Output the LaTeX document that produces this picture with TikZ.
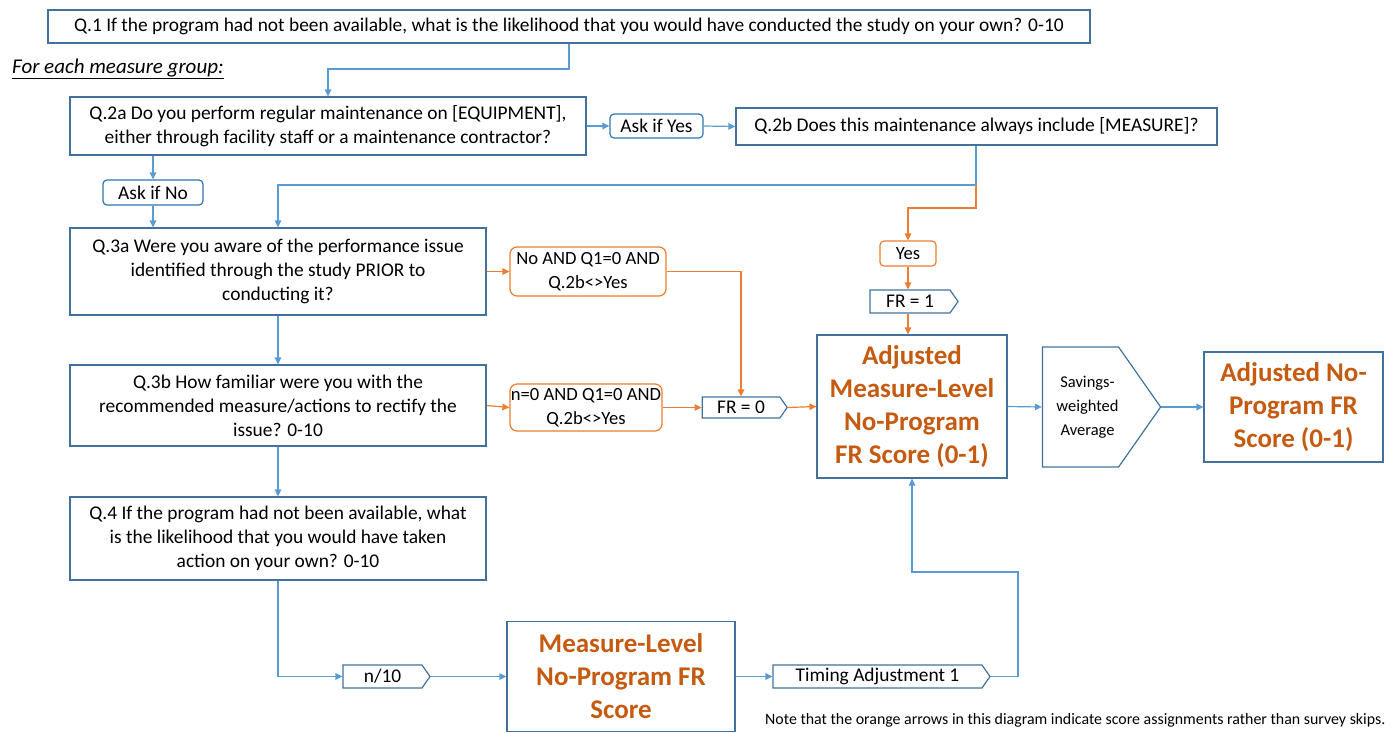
\documentclass[tikz,border=0pt]{standalone}
\usepackage{fontspec}
\setmainfont{Carlito}
\usetikzlibrary{arrows.meta,shapes.symbols}
\definecolor{boxblue}{RGB}{65,113,156}
\definecolor{lineblue}{RGB}{91,155,213}
\definecolor{askblue}{RGB}{46,117,182}
\definecolor{lineorange}{RGB}{237,125,49}
\definecolor{textorange}{RGB}{197,90,17}
\begin{document}
\begin{tikzpicture} [
  x=1pt, y=-1pt,
  every node/.style= {font=\fontsize{19.4}{24}\selectfont, align=center, inner sep=0pt},
  qbox/.style= {draw=boxblue, line width=1.2pt},
  askbox/.style= {draw=askblue, line width=1.2pt, rounded corners=4pt},
  condbox/.style= {draw=lineorange, line width=1.2pt, rounded corners=7pt, font=\fontsize{18.6}{24}\selectfont},
  flagbox/.style= {signal, signal to=east, signal pointer angle=110, draw=boxblue, line width=1.2pt},
  scorebox/.style= {draw=boxblue, line width=1.2pt, text=textorange, font=\bfseries\fontsize{27}{33}\selectfont},
  arr/.style= {draw=lineblue, line width=1.2pt, -{Triangle[length=7pt,width=6.5pt]}},
  oarr/.style= {draw=lineorange, line width=1.2pt, -{Triangle[length=7pt,width=6.5pt]}},
]
\useasboundingbox (0,0) rectangle (1395,732);

% questions
\node (q1) [qbox, minimum width=1042pt, minimum height=33pt] at (569,26.5)
  {Q.1 If the program had not been available, what is the likelihood that you would have conducted the study on your own? 0-10};
\node (grp) [anchor=west, font=\fontsize{21}{24}\selectfont] at (12,69) {\underline{\textit{For each measure group:}}};
\node (q2a) [qbox, minimum width=516pt, minimum height=58pt] at (328,126)
  {Q.2a Do you perform regular maintenance on [EQUIPMENT],\\ either through facility staff or a maintenance contractor?};
\node (askyes) [askbox, minimum width=93pt, minimum height=24pt] at (656.5,126) {Ask if Yes};
\node (q2b) [qbox, minimum width=481pt, minimum height=37pt] at (976.5,126.5)
  {Q.2b Does this maintenance always include [MEASURE]?};
\node (askno) [askbox, minimum width=100pt, minimum height=25pt] at (153,192.5) {Ask if No};
\node (q3a) [qbox, minimum width=416pt, minimum height=87pt] at (278,271.5)
  {Q.3a Were you aware of the performance issue\\ identified through the study PRIOR to\\ conducting it?};
\node (q3b) [qbox, minimum width=416pt, minimum height=81pt] at (278,405.5)
  {Q.3b How familiar were you with the\\ recommended measure/actions to rectify the\\ issue? 0-10};
\node (q4) [qbox, minimum width=416pt, minimum height=83pt] at (278,538.5)
  {Q.4 If the program had not been available, what\\ is the likelihood that you would have taken\\ action on your own? 0-10};

% score assignments
\node (cond1) [condbox, minimum width=156pt, minimum height=49pt] at (588,271.5) {No AND Q1=0 AND\\ Q.2b<>Yes};
\node (cond2) [condbox, minimum width=152pt, minimum height=47pt] at (586,407.5) {n=0 AND Q1=0 AND\\ Q.2b<>Yes};
\node (yes) [condbox, rounded corners=4pt, minimum width=56pt, minimum height=25pt] at (908,253.5) {Yes};
\node (fr1) [flagbox, minimum width=88pt, minimum height=23pt] at (910,301.5) {FR = 1};
\node (fr0) [flagbox, minimum width=85pt, minimum height=21pt] at (741,407.5) {FR = 0};

% scores
\node (adj) [scorebox, minimum width=190pt, minimum height=143pt] at (912,406.5)
  {Adjusted\\ Measure-Level\\ No-Program\\ FR Score (0-1)};
\node (avg) [flagbox, minimum width=117pt, minimum height=120pt, align=none, font=\fontsize{16.5}{24}\selectfont] at (1080.5,407)
  {\hspace*{14pt}\begin{tabular}{@{}c@{}}Savings-\\ weighted\\ Average\end{tabular}};
\node (final) [scorebox, minimum width=179pt, minimum height=110pt] at (1293.5,407)
  {Adjusted No-\\ Program FR\\ Score (0-1)};
\node (n10) [flagbox, minimum width=87pt, minimum height=23pt] at (382.5,676.5) {n/10};
\node (mlev) [scorebox, minimum width=228pt, minimum height=110pt] at (621,676.5)
  {Measure-Level\\ No-Program FR\\ Score};
\node (timing) [flagbox, minimum width=217pt, minimum height=23pt] at (877.5,676.5) {Timing Adjustment 1};
\node (note) [anchor=west, font=\fontsize{15.9}{18}\selectfont] at (765,720)
  {Note that the orange arrows in this diagram indicate score assignments rather than survey skips.};

\coordinate (b1) at (569,69);
\coordinate (b2) at (976,185);
\coordinate (b3) at (1018,572);

% skips
\draw [arr] (q1.south) -- (b1) -| (q2a.north);
\draw [arr] (q2a.east) -- (askyes.west);
\draw [arr] (askyes.east) -- (q2b.west);
\draw [arr] (q2a.south -| askno) -- (askno.north);
\draw [arr] (askno.south) -- (askno.south |- q3a.north);
\draw [arr] (q2b.south -| b2) -- (b2) -| (q3a.north);
\draw [arr] (q3a) -- (q3b);
\draw [arr] (q3b) -- (q4);
\draw [arr] (q4.south) |- (n10.west);
\draw [arr] (n10.east) -- (mlev.west);
\draw [arr] (mlev.east) -- (timing.west);
\draw [arr] (timing.east) -| (b3) -| (adj.south);
\draw [arr] (adj.east) -- (avg.west);
\draw [arr] (avg.east) -- (final.west);

% assignments
\draw [oarr] (b2) -- ++(0,23) -| (yes.north);
\draw [oarr] (yes.south) -- (yes.south |- fr1.north);
\draw [oarr] (fr1.south -| yes) -- (adj.north -| yes);
\draw [oarr] (q3a.east) -- (cond1.west);
\draw [oarr] (cond1.east) -| (fr0.north);
\draw [oarr] (q3b.east) -- (cond2.west);
\draw [oarr] (cond2.east) -- (fr0.west);
\draw [oarr] (fr0.east) -- (adj.west);
\end{tikzpicture}
\end{document}
